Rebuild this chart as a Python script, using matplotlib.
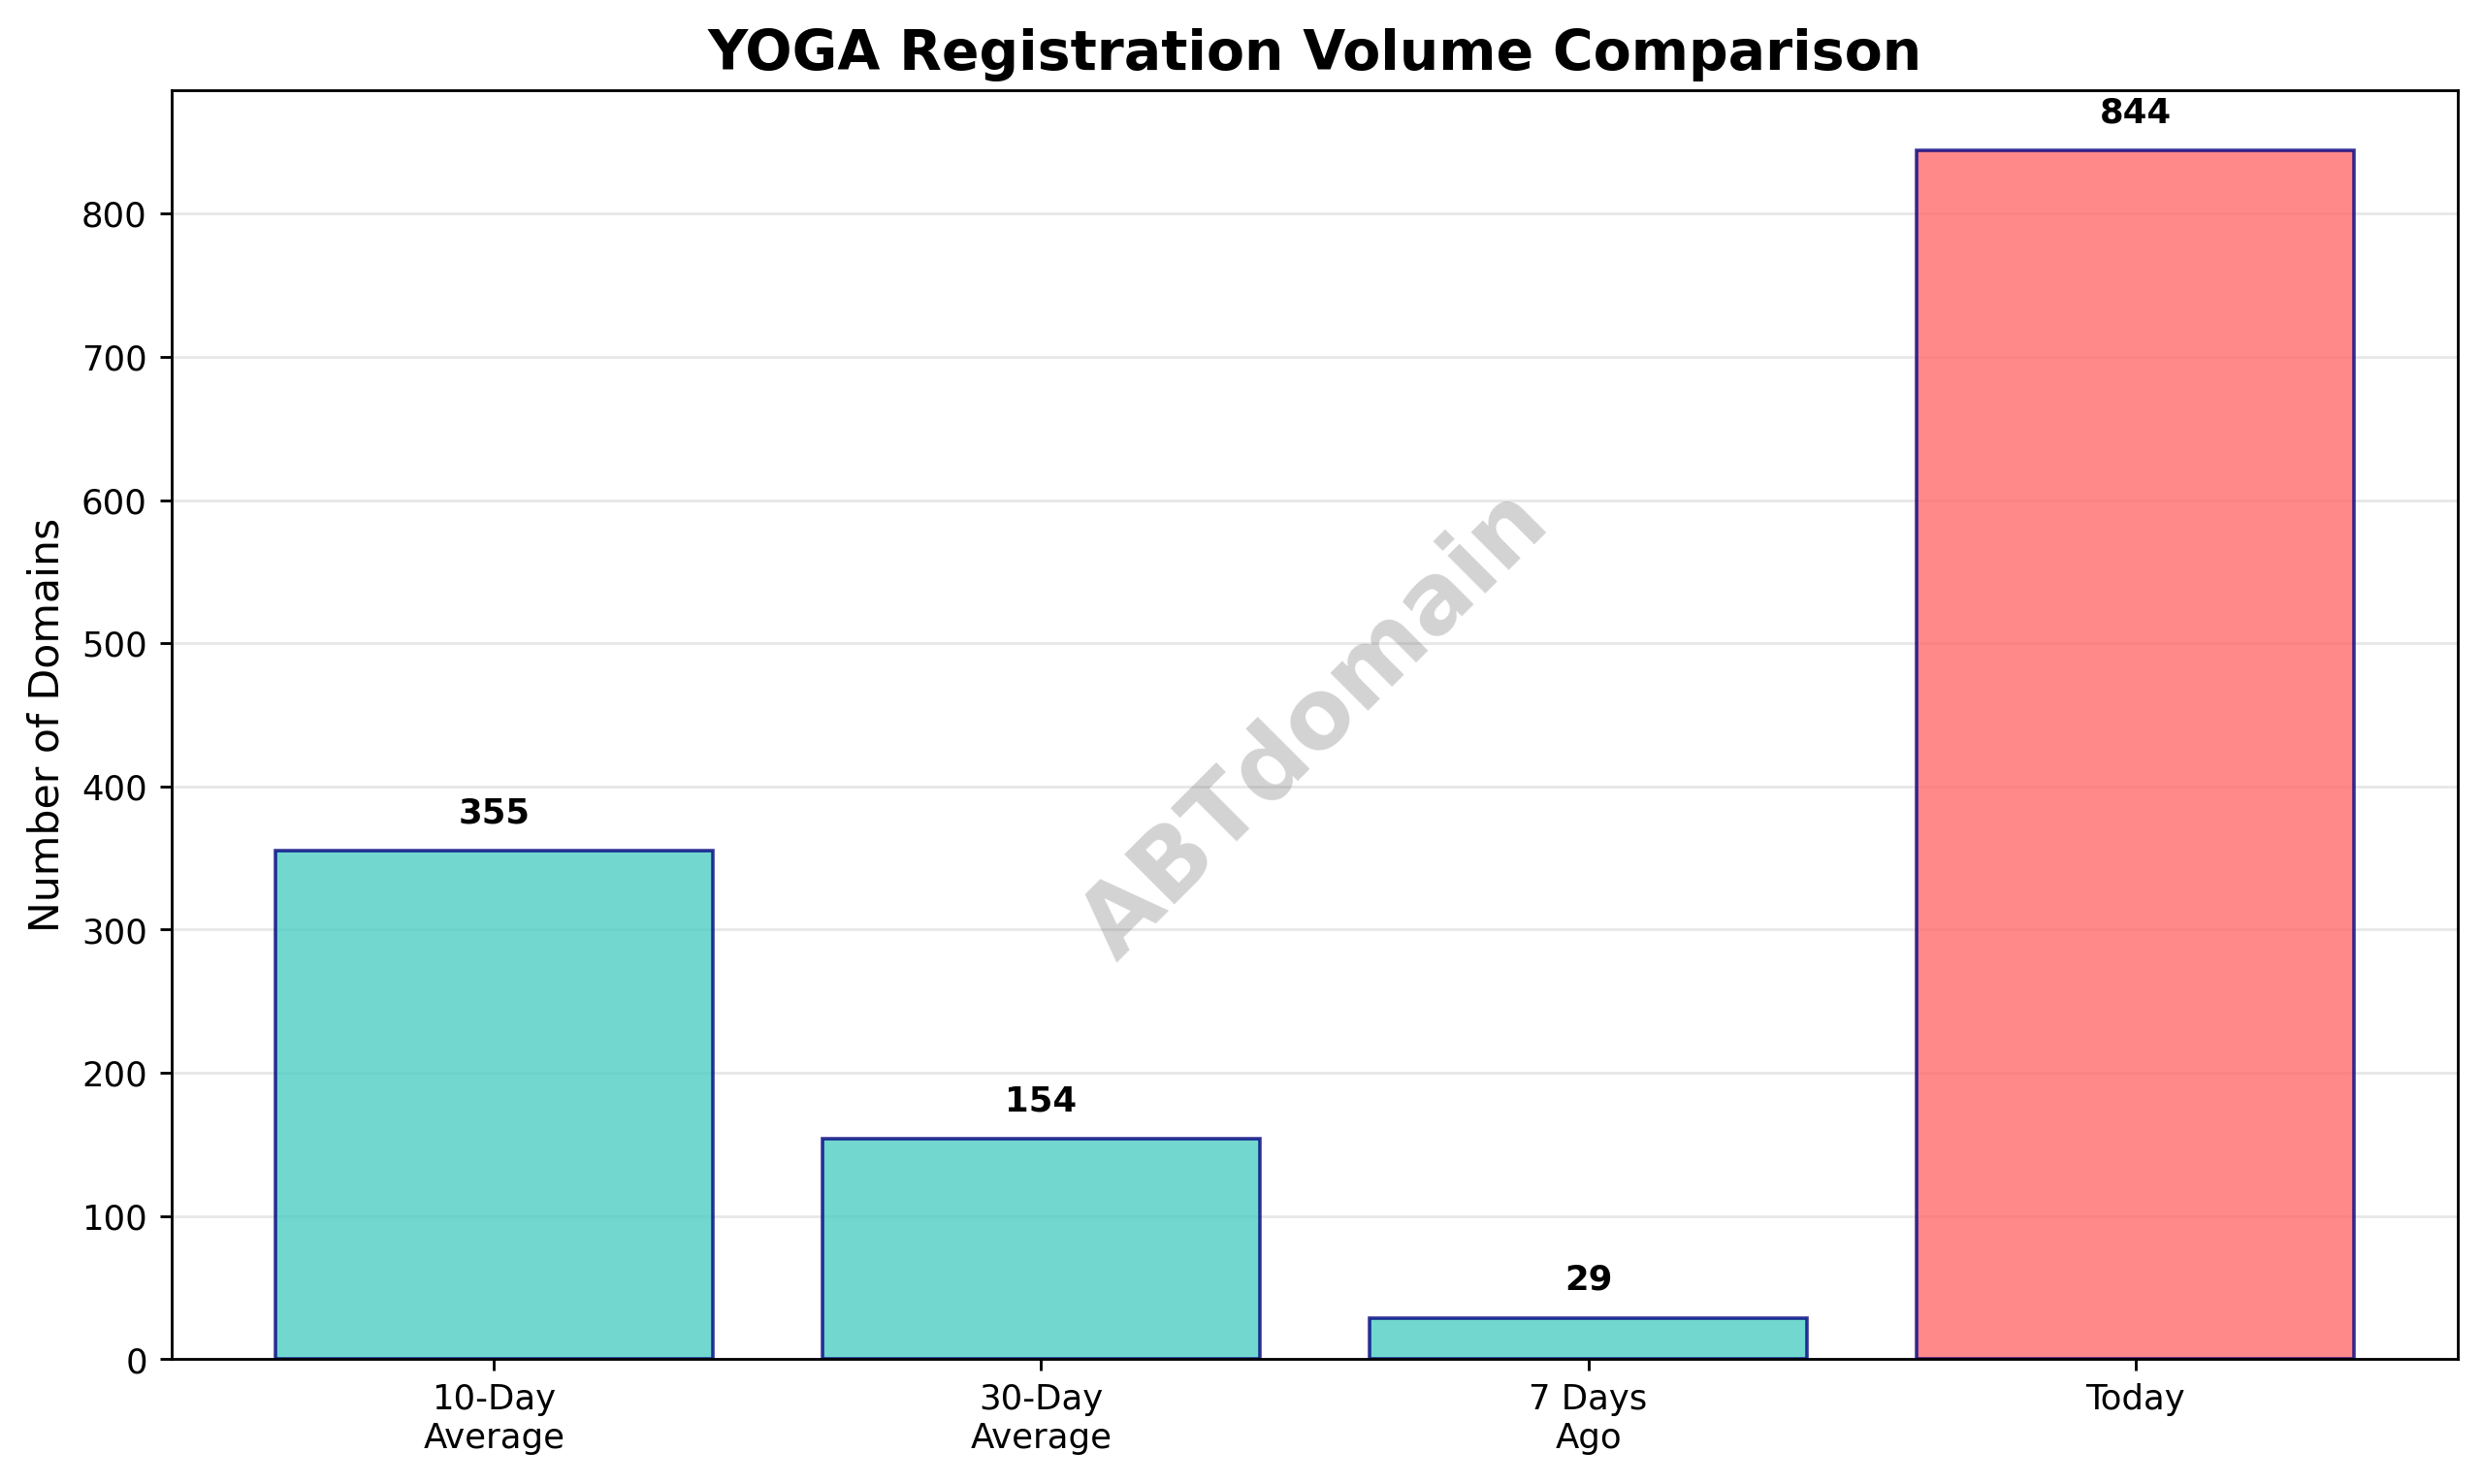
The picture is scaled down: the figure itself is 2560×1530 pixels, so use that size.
import matplotlib
matplotlib.use("Agg")
import matplotlib.pyplot as plt

categories = ["10-Day\nAverage", "30-Day\nAverage", "7 Days\nAgo", "Today"]
values = [355, 154, 29, 844]
colors = ["#4ECDC4", "#4ECDC4", "#4ECDC4", "#FF6B6B"]

fig, ax = plt.subplots(figsize=(10, 5.977), dpi=256)
bars = ax.bar(categories, values, color=colors, alpha=0.8, edgecolor="navy", linewidth=1)
for b, v in zip(bars, values):
    ax.text(b.get_x() + b.get_width() / 2, v + 15, str(v), ha="center", va="bottom",
            fontweight="bold", fontsize=10)
ax.set_title("YOGA Registration Volume Comparison", fontsize=16, fontweight="bold")
ax.set_ylabel("Number of Domains", fontsize=12)
ax.grid(axis="y", alpha=0.3)
ax.set_axisbelow(True)
ax.set_ylim(0, 886)
ax.text(0.5, 0.5, "ABTdomain", transform=ax.transAxes, fontsize=28, color="gray",
        alpha=0.35, rotation=45, ha="center", va="center", fontweight="bold")
fig.subplots_adjust(left=0.069, right=0.990, top=0.939, bottom=0.084)
fig.savefig("out.png")
